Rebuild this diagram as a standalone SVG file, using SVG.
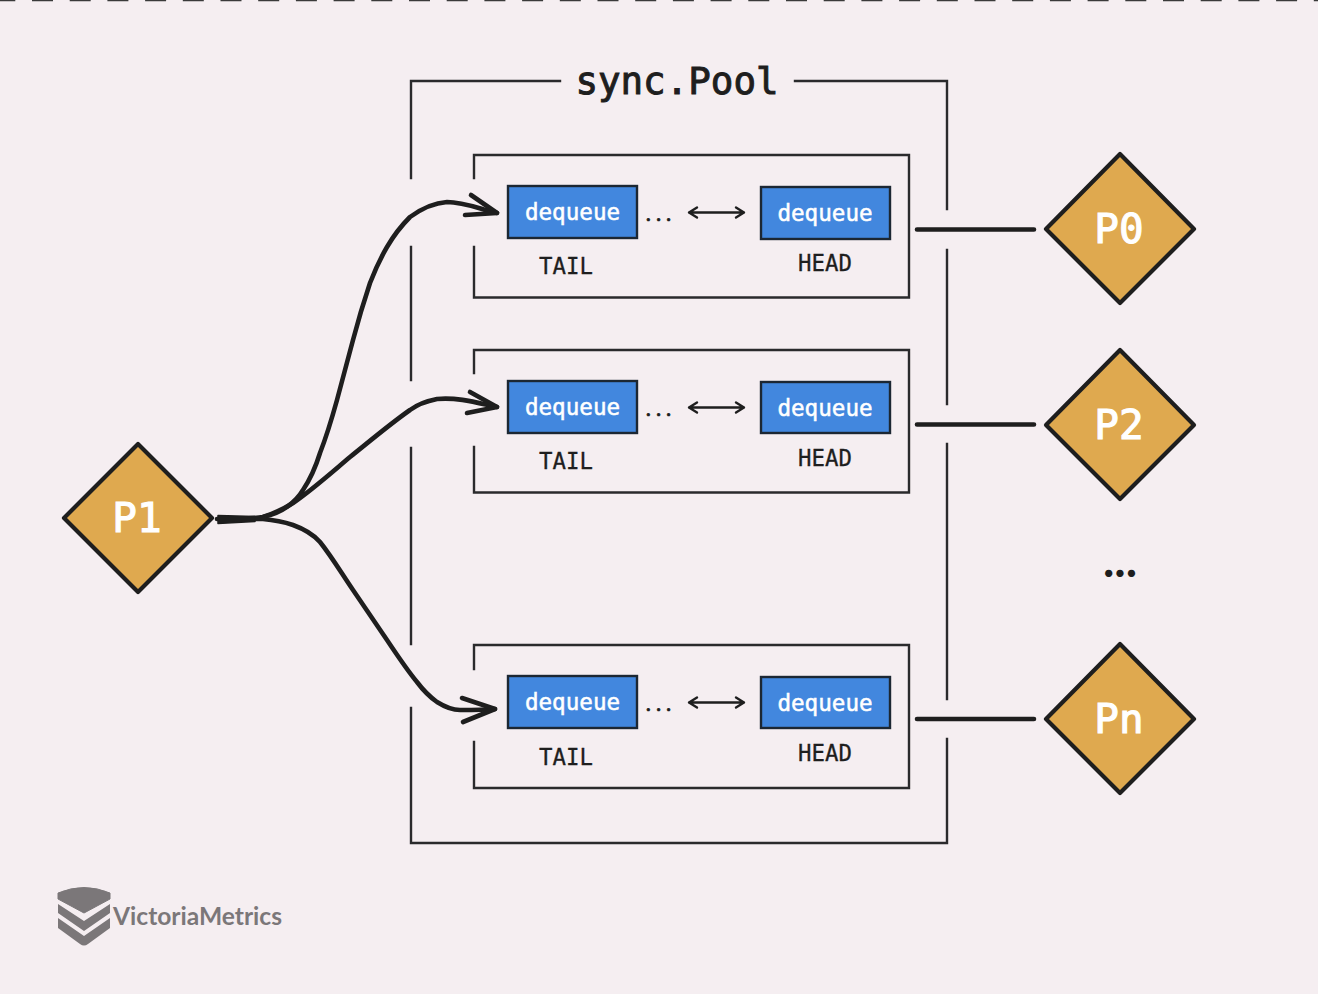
<svg xmlns="http://www.w3.org/2000/svg" xmlns:xlink="http://www.w3.org/1999/xlink" width="1318" height="994" viewBox="0 0 1318 994">
<style>
.frame{fill:none;stroke:#2a2a2c;stroke-width:2.4;stroke-linecap:square;stroke-linejoin:miter}
.box{fill:#4287de;stroke:#1c2733;stroke-width:2.4}
.dia{fill:#dfa94f;stroke:#1e1e1e;stroke-width:4.2;stroke-linejoin:round}
.m{font-family:"DejaVu Sans Mono","Liberation Mono",monospace;text-anchor:middle}
.dq{font-size:22.6px;fill:#fff;stroke:#fff;stroke-width:.5px}
.lb{font-size:22.4px;fill:#1e1e1e;stroke:#1e1e1e;stroke-width:.3px}
.pn{font-size:41px;fill:#fff;stroke:#fff;stroke-width:1.1px}
.dots{font-family:Lato,"Liberation Sans",sans-serif;text-anchor:middle;font-size:22px;letter-spacing:5px;fill:#1e1e1e;stroke:#1e1e1e;stroke-width:.7px}
.ln{fill:none;stroke:#1e1e1e;stroke-linecap:round;stroke-linejoin:round}
.thin{stroke-width:2.4}
.th{stroke-width:4.6}
</style>
<defs>
<g id="arrowSmall"><path class="ln thin" d="M1 0H56M9-5 1 0 9 5M48-5 56 0 48 5"/></g>
</defs>
<rect width="1318" height="994" fill="#f5eef1"/>
<path d="M0 0H1318" stroke="#3a3a3a" stroke-width="2.5" stroke-dasharray="21 16.7" stroke-dashoffset="-32" fill="none"/>
<g id="pool-frame" class="frame">
<path d="M411 178V81H560M795 81H947V209M947 250V404M947 444V699M947 739V843H411V708M411 644V448M411 380V247"/>
</g>
<text class="m" x="677" y="94" font-size="37.500" fill="#1e1e1e" stroke="#1e1e1e" stroke-width="1">sync.Pool</text>

<g id="shard-1">
<path class="frame" d="M474 178V155H909V297.500H474V247"/>
<rect class="box" x="508" y="186" width="129" height="52"/>
<text class="m dq" x="572.500" y="220">dequeue</text>
<rect class="box" x="761" y="187" width="129" height="52"/>
<text class="m dq" x="825" y="221">dequeue</text>
<text class="dots" x="661" y="221">...</text>
<use xlink:href="#arrowSmall" x="688" y="212.500"/>
<text class="m lb" x="566" y="274">TAIL</text>
<text class="m lb" x="825" y="271">HEAD</text>
</g>
<g id="shard-2">
<path class="frame" d="M474 373V350H909V492.500H474V447"/>
<rect class="box" x="508" y="381" width="129" height="52"/>
<text class="m dq" x="572.500" y="415">dequeue</text>
<rect class="box" x="761" y="382" width="129" height="51"/>
<text class="m dq" x="825" y="416">dequeue</text>
<text class="dots" x="661" y="416">...</text>
<use xlink:href="#arrowSmall" x="688" y="407.500"/>
<text class="m lb" x="566" y="469">TAIL</text>
<text class="m lb" x="825" y="466">HEAD</text>
</g>
<g id="shard-3">
<path class="frame" d="M474 669V645H909V788H474V742"/>
<rect class="box" x="508" y="676" width="129" height="52"/>
<text class="m dq" x="572.500" y="710">dequeue</text>
<rect class="box" x="761" y="677" width="129" height="51"/>
<text class="m dq" x="825" y="711">dequeue</text>
<text class="dots" x="661" y="711">...</text>
<use xlink:href="#arrowSmall" x="688" y="702.500"/>
<text class="m lb" x="566" y="765">TAIL</text>
<text class="m lb" x="825" y="761">HEAD</text>
</g>

<g id="connectors">
<path class="ln th" d="M217 519C235 519 250 519 263 517C273 515 280 512 287 507C294 502 299 497 303 490C311 478 316 466 320 453C327 435 332 418 337 400L353 340C358 321 364 301 370 283C375 270 380 259 387 247C394 235 401 226 410 217C421 209 433 203 447 202C464 202 480 209 497 213"/>
<path class="ln th" d="M263 517C272 514 282 510 293 503C312 490 331 473 350 457C370 441 390 424 410 410C418 404 427 401 437 399C458 397 478 403 497 407"/>
<path class="ln th" d="M240 519C250 519 257 519 263 519C274 520 284 522 293 525C304 529 313 534 320 542C332 557 342 574 353 590L387 640C397 655 407 670 417 682C423 690 430 697 437 702C445 707 452 710 460 710C472 710 484 710 495 709"/>
<path d="M218 515.500 255 516.500 255 521.500 218 523.500Z" fill="#1e1e1e" stroke="#1e1e1e" stroke-width="1.500" stroke-linejoin="round"/>
<path class="ln th" d="M471 195 497 213 465 215"/>
<path class="ln th" d="M470 392 497 407 467 413"/>
<path class="ln th" d="M462 698 495 709 463 722"/>
<path class="ln th" d="M917 229.500H1034M917 424.500H1034M917 719H1034"/>
</g>

<g id="p1"><path class="dia" d="M138 444 212 518 138 592 64 518Z"/><text class="m pn" x="137" y="532">P1</text></g>
<g id="p0"><path class="dia" d="M1120 154 1194 229 1120 303 1046 229Z"/><text class="m pn" x="1119" y="243">P0</text></g>
<g id="p2"><path class="dia" d="M1120 350 1194 425 1120 499 1046 425Z"/><text class="m pn" x="1119" y="439">P2</text></g>
<text id="ellipsis" x="1120" y="577" font-family="Lato,'Liberation Sans',sans-serif" font-size="48" font-weight="700" text-anchor="middle" fill="#1e1e1e">...</text>
<g id="pn"><path class="dia" d="M1120 644 1194 719 1120 793 1046 719Z"/><text class="m pn" x="1119" y="733">Pn</text></g>

<g id="logo">
<path d="M58 893Q84 882 110 893V899L84 913 58 899Z" fill="#7b7779" stroke="#7b7779" stroke-linejoin="round"/>
<path d="M58 904 84 921 110 904V913L84 931 58 913Z" fill="#7b7779"/>
<path d="M58 918 84 936 110 918V928L88 944Q84 947 80 944L58 928Z" fill="#7b7779"/>
<text x="113" y="925" font-family="Lato,'Liberation Sans',sans-serif" font-size="24" font-weight="700" fill="#7b7779" textLength="169" lengthAdjust="spacingAndGlyphs">VictoriaMetrics</text>
</g>
</svg>
